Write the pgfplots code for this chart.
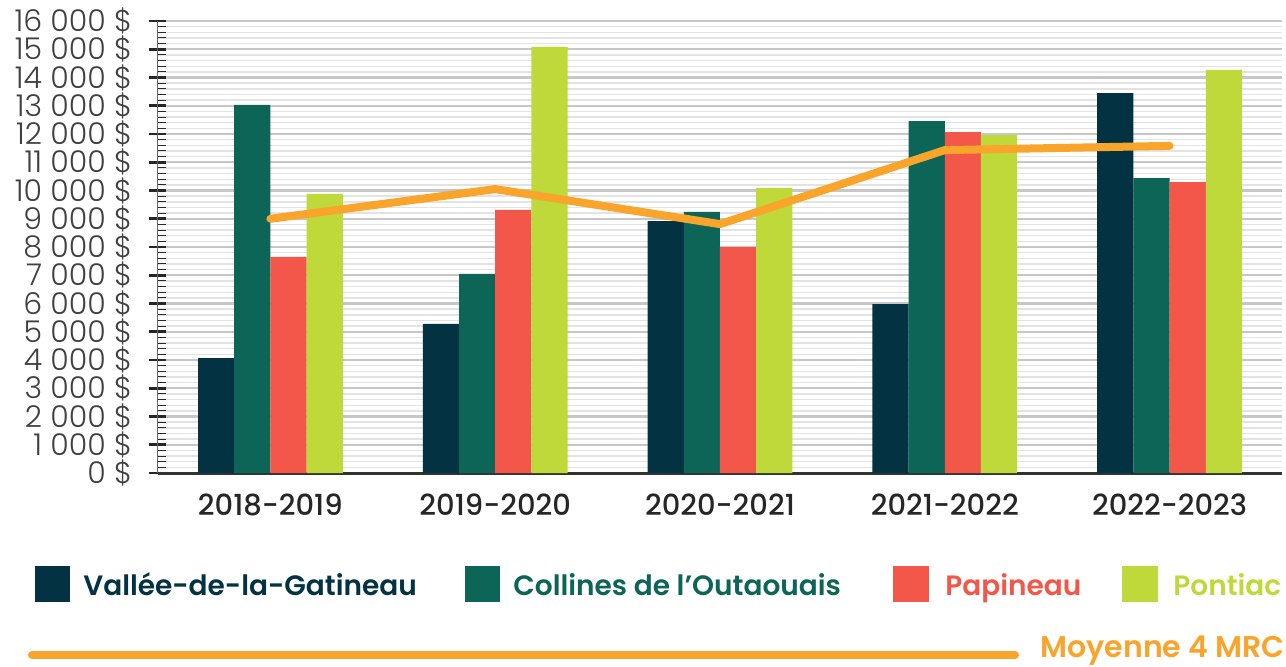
\documentclass[border=0pt]{standalone}
\usepackage{fontspec}
\setmainfont{Poppins}
\newfontfamily\lightf{Poppins Light}
\newfontfamily\medf{Poppins Medium}
\newfontfamily\semif{Poppins SemiBold}
\usepackage{pgfplots}
\pgfplotsset{compat=1.18}

\definecolor{vallee}{HTML}{033242}
\definecolor{collines}{HTML}{0D6558}
\definecolor{papineau}{HTML}{F2574A}
\definecolor{pontiac}{HTML}{BFD83A}
\definecolor{moyenne}{HTML}{F9A52C}

\begin{document}
\begin{tikzpicture}
\path[use as bounding box] (-79pt,-96.5pt) rectangle (564pt,236.5pt);
\begin{axis}[
    width=562pt, height=226pt, scale only axis,
    xmin=-0.5, xmax=4.5, ymin=0, ymax=16000,
    ybar=0pt, bar width=0.161,
    axis x line=bottom, axis y line=left,
    x axis line style={-, line width=1.5pt, color=black!80},
    y axis line style={-, line width=0.5pt, color=black!60},
    xtick={0,1,2,3,4},
    xticklabels={2018-2019,2019-2020,2020-2021,2021-2022,2022-2023},
    xtick style={draw=none},
    xticklabel style={font=\medf\fontsize{14.5}{14.5}\selectfont, color=black!85, yshift=-7pt},
    ytick={0,1000,...,16000},
    minor y tick num=4,
    scaled y ticks=false,
    tick align=inside,
    major tick length=8.5pt, minor tick length=4pt,
    ytick style={color=black!85},
    major tick style={line width=1.3pt, xshift=-4.25pt},
    minor tick style={line width=0.5pt},
    yticklabel style={font=\lightf\fontsize{15}{15}\selectfont, color=black!75,
        /pgf/number format/1000 sep={\ }, /pgf/number format/assume math mode=true,
        xshift=-9.5pt},
    yticklabel={\pgfmathprintnumber{\tick}\ \$},
    ymajorgrids, yminorgrids,
    major grid style={color=black!22, line width=1.1pt},
    minor grid style={color=black!11, line width=0.7pt},
]
\addplot[fill=vallee, draw=none] coordinates {(0,4070) (1,5280) (2,8920) (3,5980) (4,13450)};
\addplot[fill=collines, draw=none] coordinates {(0,13030) (1,7050) (2,9240) (3,12460) (4,10440)};
\addplot[fill=papineau, draw=none] coordinates {(0,7650) (1,9310) (2,8000) (3,12070) (4,10300)};
\addplot[fill=pontiac, draw=none] coordinates {(0,9880) (1,15080) (2,10090) (3,11960) (4,14270)};
\addplot[sharp plot, draw=moyenne, line width=4pt, line cap=round, line join=round, mark=none]
    coordinates {(0,9000) (1,10050) (2,8810) (3,11430) (4,11580)};
\end{axis}
% legend
\begin{scope}[font=\semif\fontsize{14}{14}\selectfont]
\fill[vallee] (-61.5pt,-64.5pt) rectangle (-44pt,-46.5pt);
\node[anchor=base west, inner sep=0pt, text=vallee] at (-37.5pt,-61pt) {Vallée-de-la-Gatineau};
\fill[collines] (153.5pt,-64.5pt) rectangle (171pt,-46.5pt);
\node[anchor=base west, inner sep=0pt, text=collines] at (177.5pt,-61pt) {Collines de l’Outaouais};
\fill[papineau] (367.5pt,-64.5pt) rectangle (385.5pt,-46.5pt);
\node[anchor=base west, inner sep=0pt, text=papineau] at (393.5pt,-61pt) {Papineau};
\fill[pontiac] (482pt,-64.5pt) rectangle (500pt,-46.5pt);
\node[anchor=base west, inner sep=0pt, text=pontiac] at (507.5pt,-61pt) {Pontiac};
\draw[moyenne, line width=4pt, line cap=round] (-63pt,-91pt) -- (428.5pt,-91pt);
\node[anchor=base west, inner sep=0pt, text=moyenne, font=\semif\fontsize{15}{15}\selectfont] at (441pt,-92pt) {Moyenne 4 MRC};
\end{scope}
\end{tikzpicture}
\end{document}
